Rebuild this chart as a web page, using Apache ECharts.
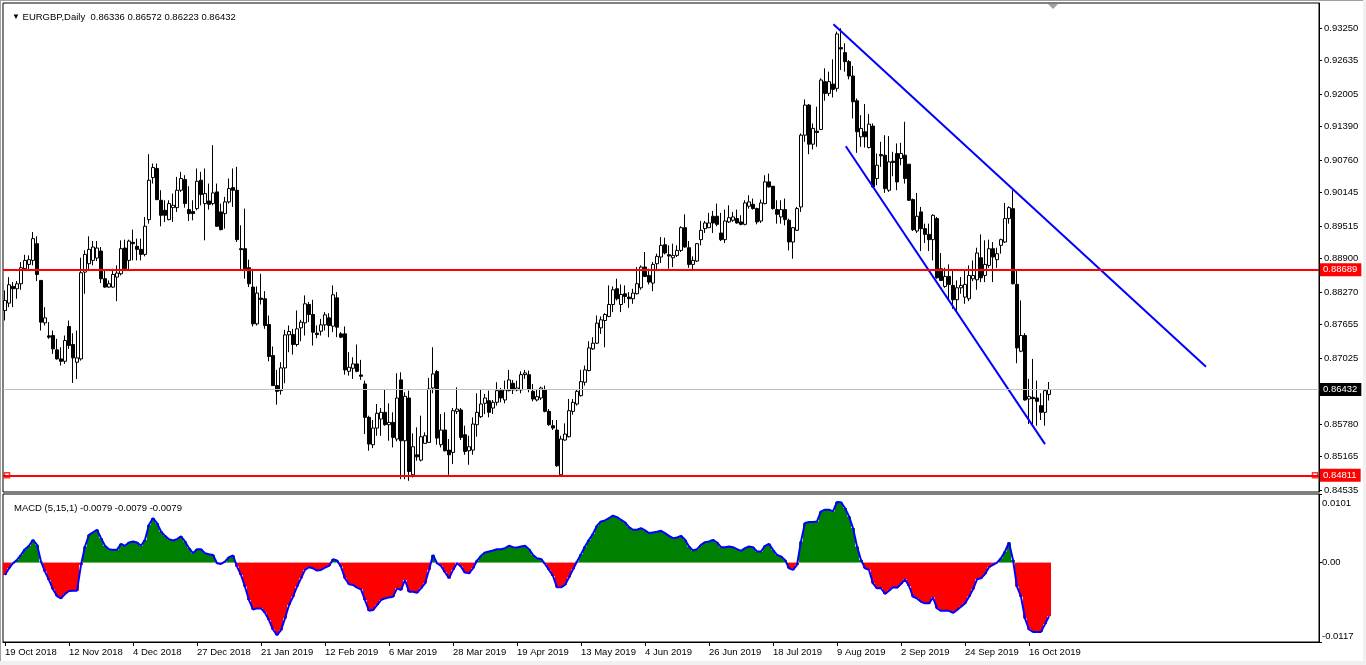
<!DOCTYPE html>
<html><head><meta charset="utf-8">
<script src="https://cdn.jsdelivr.net/npm/echarts@6/dist/echarts.min.js"></script>
<style>html,body{margin:0;padding:0;background:#fff;}#c{position:absolute;left:0;top:0;width:1366px;height:665px;}</style>
</head><body><div id="c"></div>
<script>
const open = [.87921,.88060,.88375,.88331,.88425,.88709,.88790,.88866,.89181,.88488,.87688,.87442,.87449,.87178,.87008,.86963,.87619,.87279,.86945,.87008,.88645,.88803,.88866,.88910,.89042,.88520,.88362,.88362,.88551,.88614,.89099,.88866,.89206,.89131,.89074,.88979,.89635,.90428,.90599,.90000,.89811,.89635,.89861,.89861,.90189,.90391,.89824,.89786,.89843,.90378,.89937,.89987,.89937,.90158,.89780,.89748,.89969,.90239,.90189,.89087,.89087,.88727,.88362,.87669,.88154,.88142,.87656,.87071,.86504,.86409,.86837,.87461,.87467,.87279,.87593,.87688,.88034,.87845,.87493,.87530,.87650,.87782,.87625,.88160,.87480,.87480,.86774,.86831,.86913,.86705,.86535,.85905,.85389,.85703,.85874,.86000,.85766,.85810,.85496,.86611,.85464,.86270,.84821,.85199,.85099,.85414,.85432,.86459,.86768,.85389,.85666,.85288,.85244,.86018,.86044,.85577,.85275,.85288,.85766,.85918,.86170,.86220,.86081,.86189,.86409,.86233,.86409,.86548,.86422,.86422,.86711,.86711,.86396,.86233,.86270,.86422,.86018,.85747,.85666,.84821,.85477,.85540,.86018,.86157,.86314,.86567,.86787,.87197,.87304,.87593,.87732,.87808,.88034,.88331,.88034,.88236,.88173,.88142,.88236,.88349,.88740,.88583,.88438,.88803,.88929,.89162,.88973,.88916,.88960,.89055,.89483,.89105,.88790,.88853,.89257,.89465,.89483,.89698,.89698,.89383,.89257,.89591,.89622,.89654,.89591,.89546,.89887,.89924,.89843,.89609,.89937,.90347,.90265,.89824,.89685,.89824,.89622,.89213,.89433,.89874,.91228,.91796,.91058,.91304,.91336,.92237,.92016,.92192,.92111,.92879,.92785,.92615,.92344,.91877,.91197,.91292,.90995,.91399,.90410,.90863,.90850,.90189,.90737,.90882,.90788,.90850,.90680,.90013,.89420,.89780,.89465,.89357,.89257,.89654,.88708,.88375,.88564,.88394,.88123,.88349,.88173,.88142,.88519,.88500,.88916,.88582,.88771,.89086,.88879,.89150,.89212,.89654,.89842,.88413,.87152,.87449,.86252,.86283,.86270,.86126,.86000,.86336];
const high = [.88299,.88551,.88457,.88475,.88835,.88973,.88960,.89402,.89320,.88488,.87984,.87701,.87543,.87386,.87228,.87449,.87732,.87493,.87543,.88916,.89055,.89320,.89231,.89231,.89118,.88677,.88488,.88709,.88772,.89244,.89257,.89257,.89446,.89276,.89276,.89685,.90869,.90693,.90693,.90189,.90000,.90000,.90126,.90441,.90536,.90473,.90265,.90000,.90599,.90536,.90599,.90315,.91040,.90315,.89937,.90063,.90410,.90599,.90630,.89528,.89843,.88879,.88709,.88375,.88614,.88286,.87826,.87241,.86800,.86945,.87556,.87638,.87575,.87921,.87745,.88205,.88079,.88123,.87638,.87763,.87890,.87871,.88394,.88268,.87512,.87619,.87134,.87039,.87279,.86989,.86598,.85936,.85855,.86157,.86081,.86440,.86170,.86000,.86737,.86755,.86378,.86409,.85603,.85716,.85937,.85622,.86649,.87228,.86800,.85968,.86000,.85496,.86081,.86472,.86081,.85747,.85558,.85905,.86359,.86440,.86346,.86409,.86233,.86567,.86459,.86598,.86800,.86611,.86598,.86774,.86800,.86787,.86535,.86422,.86485,.86504,.86062,.85855,.85855,.85558,.85792,.86252,.86252,.86440,.86800,.86882,.87341,.87417,.87826,.87808,.87871,.88394,.88375,.88520,.88412,.88394,.88268,.88331,.88740,.88772,.89024,.88709,.88835,.88992,.89307,.89294,.89150,.89181,.89150,.89509,.89735,.89231,.88942,.89194,.89609,.89609,.89761,.89798,.89937,.89761,.89824,.89905,.89780,.89824,.89717,.90000,.90095,.90032,.89861,.90013,.90473,.90504,.90265,.90000,.90000,.90032,.89654,.89496,.89874,.91260,.91903,.91815,.91449,.91764,.92300,.92489,.92426,.92659,.93182,.93245,.92961,.92646,.92533,.91921,.91606,.91815,.91625,.91449,.90882,.91103,.91228,.91210,.90914,.91071,.91084,.91481,.90680,.90032,.90139,.89874,.89559,.89559,.89735,.89685,.89005,.88727,.88790,.88677,.88488,.88551,.88677,.88771,.88866,.89105,.89357,.89244,.89257,.89212,.89105,.89276,.89950,.89887,.90189,.88677,.88110,.87493,.86630,.87007,.86598,.86359,.86440,.86572];
const low = [.87732,.87984,.87984,.88142,.88312,.88677,.88664,.88772,.88475,.87543,.87638,.87386,.87102,.86995,.86882,.86913,.87197,.86554,.86630,.86976,.88236,.88677,.88772,.88853,.88438,.88349,.88349,.88349,.88097,.88583,.88677,.88696,.88866,.88866,.88866,.88942,.89559,.90315,.90000,.89509,.89591,.89622,.89591,.89780,.90158,.89861,.89609,.89622,.89811,.89905,.89244,.89824,.89905,.89509,.89433,.89465,.89937,.89874,.89213,.88677,.88520,.88362,.87619,.87638,.88034,.87575,.86963,.86504,.86144,.86333,.86548,.87134,.87089,.87241,.87341,.87449,.87701,.87260,.87398,.87449,.87543,.87417,.87512,.87417,.87398,.86711,.86692,.86630,.86755,.86611,.85590,.85275,.85325,.85558,.85558,.85747,.85464,.85338,.85451,.84740,.84740,.84708,.84771,.85086,.85073,.85414,.85432,.86359,.85389,.85338,.85262,.84821,.85023,.85968,.85477,.85199,.85010,.85199,.85540,.85892,.85968,.85905,.85968,.86126,.86189,.86170,.86396,.86346,.86396,.86359,.86630,.86378,.86207,.86207,.86233,.86000,.85747,.85666,.84973,.84802,.85464,.85527,.85955,.86126,.86296,.86504,.86774,.87178,.87291,.87480,.87228,.87795,.87890,.88110,.87890,.88060,.87971,.88047,.88223,.88312,.88551,.88412,.88286,.88664,.88816,.88979,.88709,.88740,.88929,.89024,.89105,.88727,.88690,.88835,.89150,.89383,.89483,.89383,.89509,.89231,.89194,.89572,.89591,.89559,.89528,.89528,.89843,.89824,.89546,.89572,.89924,.90239,.89824,.89559,.89559,.89528,.89055,.88897,.89420,.89780,.91103,.90869,.90958,.91008,.91323,.91877,.91966,.91940,.92048,.92457,.92426,.92281,.91543,.90895,.91008,.90995,.90977,.90239,.90284,.90630,.90139,.90158,.90454,.90189,.90661,.90315,.89987,.89420,.89383,.89042,.89194,.89042,.88866,.88519,.88475,.88349,.88110,.87953,.87871,.88236,.88047,.88097,.88475,.88312,.88456,.88456,.88727,.88456,.88727,.88992,.89194,.89559,.88413,.86926,.87134,.86220,.85779,.85779,.85747,.85855,.85747,.86223];
const close = [.88110,.88406,.88331,.88425,.88727,.88866,.88879,.89276,.88601,.87701,.87782,.87417,.87197,.87008,.86963,.87354,.87260,.87027,.87027,.88633,.88979,.89074,.89118,.89099,.88520,.88362,.88425,.88601,.88627,.89087,.88709,.89231,.89181,.89074,.88979,.89509,.90378,.90617,.90013,.89717,.89717,.89937,.89905,.90189,.90410,.89937,.89748,.89748,.90359,.90107,.90126,.89924,.90139,.89509,.89446,.89969,.90221,.90189,.89257,.89068,.88709,.88425,.87669,.88249,.88129,.87638,.87052,.86504,.86396,.86837,.87461,.87524,.87279,.87575,.87701,.88047,.87845,.87512,.87467,.87650,.87839,.87638,.88217,.87606,.87417,.86800,.86850,.86913,.86774,.86680,.85905,.85401,.85703,.85981,.86000,.85766,.85810,.85527,.86270,.85464,.86302,.84884,.85351,.85161,.85540,.85558,.86440,.86724,.85514,.85666,.85275,.85199,.86031,.86062,.85527,.85262,.85351,.85779,.86000,.86157,.86270,.86000,.86189,.86409,.86270,.86422,.86611,.86422,.86459,.86711,.86743,.86440,.86252,.86296,.86459,.86018,.85766,.85703,.84992,.85496,.85590,.86031,.86189,.86396,.86579,.86800,.87215,.87304,.87682,.87745,.87845,.88034,.88312,.88142,.88223,.88186,.88142,.88249,.88425,.88740,.88564,.88457,.88790,.88942,.89150,.89005,.88948,.88960,.89055,.89483,.89118,.88790,.88866,.89181,.89433,.89572,.89572,.89572,.89546,.89257,.89609,.89672,.89685,.89572,.89546,.89950,.89969,.89843,.89591,.89950,.90347,.90252,.89843,.89735,.89824,.89635,.89213,.89483,.89843,.91228,.91796,.91058,.91355,.91279,.92268,.92016,.92237,.92092,.93137,.92854,.92615,.92344,.91858,.91292,.91355,.91197,.91436,.90252,.90661,.90838,.90220,.90724,.90712,.90346,.90882,.90410,.90000,.89446,.89698,.89465,.89357,.89257,.89716,.88538,.88488,.88564,.88413,.88123,.88349,.88394,.88413,.88582,.88582,.89005,.88538,.88790,.89086,.88929,.88992,.89257,.89654,.89861,.88425,.87215,.87449,.86233,.86296,.86258,.86207,.86000,.86409,.86432];
const macd = [-0.00182,-0.00084,-0.00010,0.00039,0.00113,0.00197,0.00247,0.00335,0.00261,0.00015,-0.00133,-0.00256,-0.00394,-0.00493,-0.00528,-0.00463,-0.00419,-0.00414,-0.00414,-0.00035,0.00237,0.00409,0.00444,0.00483,0.00360,0.00247,0.00197,0.00187,0.00187,0.00276,0.00247,0.00296,0.00311,0.00296,0.00247,0.00335,0.00557,0.00656,0.00582,0.00458,0.00394,0.00345,0.00325,0.00345,0.00385,0.00311,0.00212,0.00138,0.00197,0.00197,0.00138,0.00123,0.00113,-0.00010,-0.00020,0.00015,0.00079,0.00104,-0.00059,-0.00182,-0.00355,-0.00552,-0.00690,-0.00675,-0.00675,-0.00740,-0.00848,-0.00986,-0.01070,-0.00996,-0.00823,-0.00626,-0.00503,-0.00355,-0.00232,-0.00108,-0.00069,-0.00084,-0.00118,-0.00108,-0.00074,-0.00049,0.00049,0.00030,-0.00059,-0.00232,-0.00320,-0.00330,-0.00370,-0.00394,-0.00552,-0.00710,-0.00700,-0.00626,-0.00552,-0.00528,-0.00513,-0.00503,-0.00380,-0.00404,-0.00256,-0.00429,-0.00429,-0.00444,-0.00380,-0.00306,-0.00108,0.00113,-0.00010,-0.00049,-0.00143,-0.00232,-0.00108,-0.00010,-0.00059,-0.00148,-0.00158,-0.00084,0.00030,0.00099,0.00148,0.00163,0.00177,0.00197,0.00197,0.00212,0.00247,0.00227,0.00222,0.00237,0.00247,0.00197,0.00113,0.00064,0.00054,-0.00020,-0.00108,-0.00197,-0.00365,-0.00365,-0.00330,-0.00217,-0.00099,0.00015,0.00123,0.00237,0.00335,0.00424,0.00542,0.00606,0.00621,0.00656,0.00690,0.00670,0.00631,0.00592,0.00523,0.00483,0.00483,0.00508,0.00473,0.00434,0.00444,0.00454,0.00468,0.00434,0.00394,0.00360,0.00370,0.00394,0.00335,0.00237,0.00177,0.00197,0.00261,0.00301,0.00311,0.00335,0.00296,0.00227,0.00227,0.00237,0.00227,0.00197,0.00173,0.00212,0.00237,0.00227,0.00163,0.00163,0.00247,0.00276,0.00187,0.00113,0.00089,0.00039,-0.00084,-0.00108,-0.00035,0.00311,0.00582,0.00597,0.00597,0.00606,0.00754,0.00779,0.00779,0.00754,0.00892,0.00887,0.00804,0.00680,0.00508,0.00237,0.00039,-0.00084,-0.00108,-0.00306,-0.00380,-0.00375,-0.00463,-0.00414,-0.00365,-0.00370,-0.00316,-0.00247,-0.00345,-0.00503,-0.00528,-0.00577,-0.00601,-0.00601,-0.00513,-0.00675,-0.00710,-0.00710,-0.00710,-0.00740,-0.00700,-0.00651,-0.00601,-0.00503,-0.00394,-0.00247,-0.00232,-0.00168,-0.00069,-0.00035,0,0.00064,0.00163,0.00296,0.00039,-0.00355,-0.00503,-0.00823,-0.00986,-0.01021,-0.01021,-0.01021,-0.00907,-0.0079];
const dateTicks = ['19 Oct 2018','12 Nov 2018','4 Dec 2018','27 Dec 2018','21 Jan 2019','12 Feb 2019','6 Mar 2019','28 Mar 2019','19 Apr 2019','13 May 2019','4 Jun 2019','26 Jun 2019','18 Jul 2019','9 Aug 2019','2 Sep 2019','24 Sep 2019','16 Oct 2019'];
const priceTicks = [0.93250,0.92635,0.92005,0.91390,0.90760,0.90145,0.89515,0.88900,0.88270,0.87655,0.87025,0.85780,0.85165,0.84535];
const macdTicks = [-0.0117, 0, 0.0101];
const levels = [0.88689, 0.84811];
const trendUpper = [[207.1, 0.9332], [300.25, 0.8686]];
const trendLower = [[210.2, 0.9102], [260.0, 0.8540]];
const levelMarkers = [[0.5, 0.84811], [327.5, 0.84811]];
const TICK_STEP = 16;
const SLOTS = 329;

const FONT = "'Liberation Sans', Arial, sans-serif";
const FS = 9.5;
const last = close.length - 1;
const cats = Array.from({length: SLOTS}, (_, i) => String(i));
const candleData = open.map((o, i) => [o, close[i], low[i], high[i]]);
const yMax = 0.93721, yMin = 0.84497;

const chart = echarts.init(document.getElementById('c'), null, {renderer: 'canvas'});
const tickShown = (i) => i % TICK_STEP === 0 && i / TICK_STEP < dateTicks.length;
const lvlLabel = (bg) => ({show: true, position: 'end', distance: 1, formatter: (p) => Number(p.value).toFixed(5),
  color: '#fff', backgroundColor: bg, padding: [2, 4, 1, 3], fontSize: FS, fontFamily: FONT});
const macdFmt = (v) => {
  if (v === 0) return '0.00';
  const s = v.toFixed(4);
  return v > 0 ? '{t|' + s + '}' : '{b|' + s + '}';
};

chart.setOption({
  animation: false,
  backgroundColor: '#fff',
  textStyle: {fontFamily: FONT},
  title: [
    {left: 7, top: 7, text: '{a|▼} EURGBP,Daily  ' + [open[last], high[last], low[last], close[last]].map(v => v.toFixed(5)).join(' '),
      textStyle: {fontSize: FS, fontWeight: 'normal', color: '#000', fontFamily: FONT, rich: {a: {fontSize: 8, color: '#000'}}}},
    {left: 9, top: 498, text: 'MACD (5,15,1) ' + [macd[last], macd[last], macd[last]].map(v => v.toFixed(4)).join(' '),
      textStyle: {fontSize: FS, fontWeight: 'normal', color: '#000', fontFamily: FONT}}
  ],
  graphic: [
    {type: 'rect', shape: {x: 0, y: 0, width: 1366, height: 1}, style: {fill: '#a0a0a0'}, silent: true},
    {type: 'rect', shape: {x: 0, y: 0, width: 1, height: 665}, style: {fill: '#a0a0a0'}, silent: true},
    {type: 'rect', shape: {x: 1363, y: 0, width: 3, height: 665}, style: {fill: '#f0f0f0'}, silent: true},
    {type: 'rect', shape: {x: 0, y: 661, width: 1366, height: 4}, style: {fill: '#f0f0f0'}, silent: true},
    {type: 'polygon', shape: {points: [[1048, 4], [1058, 4], [1053, 9]]}, style: {fill: '#a0a0a0'}, silent: true}
  ],
  grid: [
    {left: 3, right: 47, top: 3, height: 489, show: true, borderColor: '#000', borderWidth: 1, backgroundColor: '#fff'},
    {left: 3, right: 47, top: 494, height: 148, show: true, borderColor: '#000', borderWidth: 1, backgroundColor: '#fff'}
  ],
  xAxis: [
    {type: 'category', gridIndex: 0, data: cats, boundaryGap: true, show: false},
    {type: 'value', gridIndex: 0, min: -0.5, max: SLOTS - 0.5, show: false},
    {type: 'category', gridIndex: 1, data: cats, boundaryGap: true, position: 'bottom',
      axisLine: {show: true, onZero: false, lineStyle: {color: '#000', width: 1}},
      axisTick: {show: true, alignWithLabel: true, length: 4, interval: (i) => tickShown(i), lineStyle: {color: '#000'}},
      axisLabel: {show: true, interval: (i) => tickShown(i), formatter: (v, i) => dateTicks[i / TICK_STEP] || '',
        align: 'left', margin: 5, color: '#000', fontSize: FS, fontFamily: FONT},
      splitLine: {show: false}}
  ],
  yAxis: [
    {type: 'value', gridIndex: 0, position: 'right', min: yMin, max: yMax,
      axisLine: {show: true, onZero: false, lineStyle: {color: '#000'}},
      axisTick: {show: true, length: 3, customValues: priceTicks, lineStyle: {color: '#000'}},
      axisLabel: {show: true, customValues: priceTicks, formatter: (v) => v.toFixed(5), margin: 5, color: '#000', fontSize: FS, fontFamily: FONT},
      splitLine: {show: false}},
    {type: 'value', gridIndex: 1, position: 'right', min: macdTicks[0], max: macdTicks[2],
      axisLine: {show: true, onZero: false, lineStyle: {color: '#000'}},
      axisTick: {show: true, length: 3, customValues: macdTicks, lineStyle: {color: '#000'}},
      axisLabel: {show: true, customValues: macdTicks, formatter: macdFmt, margin: 3,
        verticalAlignMinLabel: 'bottom', verticalAlignMaxLabel: 'top', color: '#000', fontSize: FS, fontFamily: FONT,
        rich: {t: {fontSize: FS, fontFamily: FONT, color: '#000', padding: [4, 0, 0, 0]},
               b: {fontSize: FS, fontFamily: FONT, color: '#000', padding: [0, 0, 1, 0]}}},
      splitLine: {show: false}}
  ],
  series: [
    {type: 'candlestick', xAxisIndex: 0, yAxisIndex: 0, data: candleData, barWidth: 3,
      itemStyle: {color: '#fff', color0: '#000', borderColor: '#000', borderColor0: '#000', borderWidth: 1},
      markLine: {silent: true, symbol: 'none', animation: false, precision: 5,
        data: [
          {yAxis: levels[0], lineStyle: {color: '#ff0000', width: 2, type: 'solid'}, label: lvlLabel('#ff0000')},
          {yAxis: close[last], lineStyle: {color: '#c0c0c0', width: 1, type: 'solid'}, label: lvlLabel('#000')},
          {yAxis: levels[1], lineStyle: {color: '#ff0000', width: 2, type: 'solid'}, label: lvlLabel('#ff0000')}
        ]}},
    {type: 'line', xAxisIndex: 1, yAxisIndex: 0, data: trendUpper, showSymbol: false, symbol: 'none',
      lineStyle: {color: '#0000ff', width: 2}},
    {type: 'line', xAxisIndex: 1, yAxisIndex: 0, data: trendLower, showSymbol: false, symbol: 'none',
      lineStyle: {color: '#0000ff', width: 2}},
    {type: 'scatter', xAxisIndex: 1, yAxisIndex: 0, data: levelMarkers, symbol: 'rect', symbolSize: 5,
      itemStyle: {color: '#fff', borderColor: '#ff0000', borderWidth: 1.5}},
    {type: 'bar', xAxisIndex: 2, yAxisIndex: 1, data: macd, barWidth: 4, barGap: '-100%',
      itemStyle: {color: (p) => p.value >= 0 ? '#008000' : '#ff0000'}},
    {type: 'line', xAxisIndex: 2, yAxisIndex: 1, data: macd, showSymbol: false, symbol: 'none',
      lineStyle: {color: '#0000ff', width: 2}}
  ]
});
</script></body></html>
